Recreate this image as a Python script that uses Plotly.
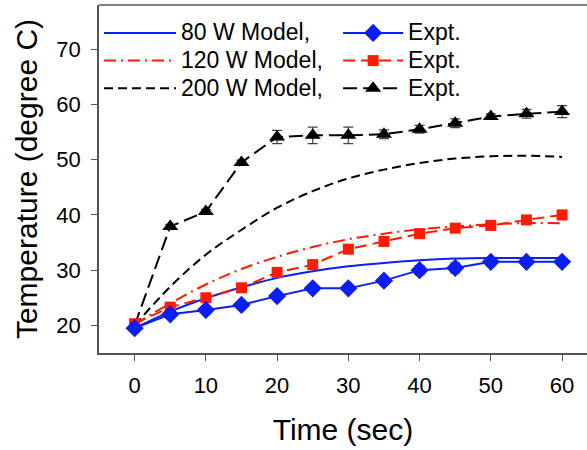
import plotly.graph_objects as go

time_s = [0, 5, 10, 15, 20, 25, 30, 35, 40, 45, 50, 55, 60]

model_80 = [19.5, 22.5, 24.9, 26.9, 28.6, 29.8, 30.7, 31.3, 31.8, 32.1, 32.2, 32.2, 32.2]
model_120 = [20.2, 24.0, 27.4, 30.2, 32.4, 34.2, 35.6, 36.6, 37.4, 37.9, 38.3, 38.5, 38.5]
model_200 = [20.0, 27.0, 32.8, 37.3, 41.3, 44.3, 46.6, 48.2, 49.4, 50.2, 50.6, 50.7, 50.5]

expt_80 = [19.5, 22.0, 22.8, 23.7, 25.3, 26.7, 26.7, 28.1, 30.0, 30.4, 31.5, 31.5, 31.5]
expt_120 = [20.3, 23.3, 25.0, 26.8, 29.6, 31.0, 33.8, 35.2, 36.6, 37.6, 38.1, 39.1, 40.0]
expt_200 = [20.0, 37.9, 40.6, 49.5, 54.1, 54.4, 54.4, 54.6, 55.5, 56.6, 57.8, 58.3, 58.7]

err_80 = [0.3, 0.5, 0.4, 0.4, 0.5, 0.4, 0.4, 0.6, 0.8, 0.9, 0.5, 0.4, 0.4]
err_120 = [0.3, 0.3, 0.3, 0.3, 0.3, 0.3, 0.3, 0.3, 0.3, 0.3, 0.3, 0.3, 0.3]
err_200 = [0.3, 0.4, 0.4, 0.4, 1.2, 1.5, 1.5, 0.8, 0.7, 0.8, 0.5, 0.8, 1.1]

x_ticks = [0, 10, 20, 30, 40, 50, 60]
y_ticks = [20, 30, 40, 50, 60, 70]

BLUE = "#0a1ef5"
RED = "#ff1a00"
BLACK = "#000000"


def lg(text):
    return "<span style='font-size:23px'>" + text + "</span>"


fig = go.Figure()

# models
fig.add_trace(go.Scatter(x=time_s, y=model_200, mode="lines", name=lg("200 W Model,"),
                         line=dict(color=BLACK, width=2, dash="9px,5px"), line_shape="spline",
                         legend="legend", legendrank=3))
fig.add_trace(go.Scatter(x=time_s, y=model_120, mode="lines", name=lg("120 W Model,"),
                         line=dict(color=RED, width=2, dash="12px,5px,2px,5px"), line_shape="spline",
                         legend="legend", legendrank=2))
fig.add_trace(go.Scatter(x=time_s, y=model_80, mode="lines", name=lg("80 W Model,"),
                         line=dict(color=BLUE, width=2), line_shape="spline",
                         legend="legend", legendrank=1))

err_style = dict(type="data", color="#444", thickness=1.2, width=5)

fig.add_trace(go.Scatter(x=time_s, y=expt_200, mode="lines+markers", name=lg("Expt."),
                         line=dict(color=BLACK, width=2, dash="14px,6px"),
                         marker=dict(symbol="triangle-up", size=14, color=BLACK),
                         error_y=dict(array=err_200, **err_style),
                         legend="legend2", legendrank=3))
fig.add_trace(go.Scatter(x=time_s, y=expt_120, mode="lines+markers", name=lg("Expt."),
                         line=dict(color=RED, width=2, dash="12px,6px"),
                         marker=dict(symbol="square", size=11, color=RED),
                         error_y=dict(array=err_120, **err_style),
                         legend="legend2", legendrank=2))
fig.add_trace(go.Scatter(x=time_s, y=expt_80, mode="lines+markers", name=lg("Expt."),
                         line=dict(color=BLUE, width=2),
                         marker=dict(symbol="diamond", size=14, color=BLUE),
                         error_y=dict(array=err_80, **err_style),
                         legend="legend2", legendrank=1))

AX = "#555555"
font_fam = "Liberation Sans, Arial, sans-serif"

fig.update_layout(
    width=587, height=450,
    margin=dict(l=99, r=0, t=5, b=97),
    paper_bgcolor="white", plot_bgcolor="white",
    font=dict(family=font_fam, color="black", size=22),
    xaxis=dict(range=[-5, 63.5], tickvals=x_ticks, showgrid=False, zeroline=False,
               showline=True, linecolor=AX, linewidth=1.5, ticks="outside", ticklen=6,
               tickcolor=AX, tickfont=dict(size=22), ticklabelstandoff=6,
               title=dict(text="Time (sec)", font=dict(size=30), standoff=22)),
    yaxis=dict(range=[15, 78], tickvals=y_ticks, showgrid=False, zeroline=False,
               showline=True, linecolor=AX, linewidth=1.5, ticks="outside", ticklen=6,
               tickcolor=AX, tickfont=dict(size=22), ticklabelstandoff=6,
               title=dict(text="Temperature (degree C)", font=dict(size=30), standoff=10)),
    legend=dict(x=0.0, y=0.974, xanchor="left", yanchor="top", bgcolor="rgba(0,0,0,0)",
                itemwidth=72, tracegroupgap=0, font=dict(size=19), traceorder="normal"),
    legend2=dict(x=0.49, y=0.974, xanchor="left", yanchor="top", bgcolor="rgba(0,0,0,0)",
                 itemwidth=60, tracegroupgap=0, font=dict(size=19), traceorder="normal"),
    showlegend=True,
    shapes=[dict(type="line", xref="paper", yref="paper", x0=0, x1=1, y0=1, y1=1,
                 line=dict(color=AX, width=1.5))],
)

fig.write_html("out.html", config={"displayModeBar": False},
               post_script="document.body.style.margin='0';")
